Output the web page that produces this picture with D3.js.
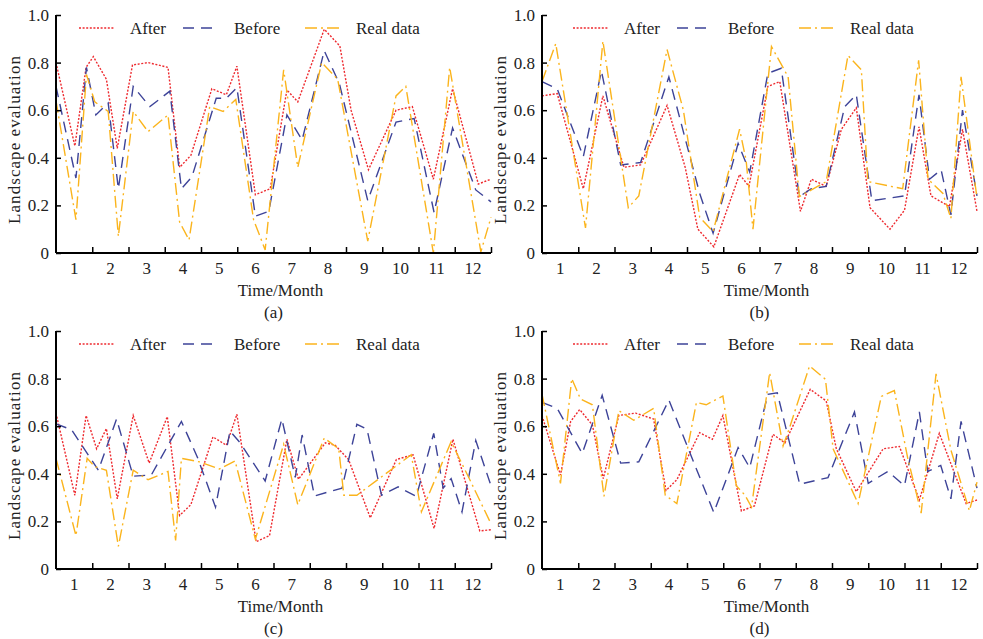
<!DOCTYPE html>
<html>
<head>
<meta charset="utf-8">
<script src="https://cdn.jsdelivr.net/npm/d3@7"></script>
<style>
body { margin: 0; background: #fff; }
svg { font-family: 'Liberation Serif', 'Times New Roman', serif; }
</style>
</head>
<body>
<svg width="983" height="639"></svg>
<script>
// [month position, value]
const aAfter = [[0,0.80],[0.52,0.45],[0.83,0.78],[1.03,0.825],[1.39,0.73],[1.69,0.44],[2.11,0.79],[2.54,0.80],[3.09,0.78],[3.41,0.36],[3.72,0.41],[4.30,0.69],[4.70,0.665],[4.99,0.785],[5.5,0.245],[5.91,0.27],[6.37,0.685],[6.67,0.635],[7.40,0.94],[7.83,0.87],[8.14,0.60],[8.62,0.35],[9.38,0.60],[9.83,0.615],[10.41,0.31],[10.94,0.69],[11.65,0.29],[12,0.31]]
const aBefore = [[0,0.70],[0.55,0.315],[0.84,0.78],[1.10,0.58],[1.44,0.63],[1.72,0.27],[2.13,0.70],[2.59,0.615],[3.14,0.68],[3.46,0.27],[3.75,0.32],[4.42,0.65],[4.70,0.65],[4.99,0.695],[5.5,0.155],[5.87,0.175],[6.37,0.58],[6.79,0.475],[7.40,0.85],[7.82,0.71],[8.60,0.22],[9.38,0.55],[9.88,0.565],[10.43,0.17],[10.94,0.525],[11.58,0.265],[12,0.215]]
const aReal = [[0,0.64],[0.55,0.14],[0.84,0.75],[1.07,0.635],[1.44,0.595],[1.72,0.07],[2.13,0.595],[2.54,0.51],[3.09,0.58],[3.41,0.13],[3.67,0.055],[4.24,0.615],[4.61,0.595],[4.96,0.645],[5.45,0.14],[5.77,0.013],[6.28,0.77],[6.67,0.36],[7.33,0.80],[7.77,0.73],[8.60,0.05],[9.38,0.66],[9.65,0.70],[10.41,0.0],[10.86,0.78],[11.72,0.005],[12,0.15]]

const bAfter = [[0,0.66],[0.42,0.67],[1.14,0.27],[1.68,0.66],[2.26,0.36],[2.72,0.37],[3.45,0.62],[3.95,0.36],[4.3,0.10],[4.74,0.026],[5.45,0.33],[5.71,0.28],[6.23,0.70],[6.56,0.72],[7.13,0.175],[7.43,0.31],[7.84,0.28],[8.26,0.52],[8.67,0.61],[9.05,0.19],[9.6,0.10],[10.0,0.18],[10.4,0.53],[10.73,0.24],[11.24,0.195],[11.6,0.52],[12,0.175]]
const bBefore = [[0,0.72],[0.42,0.69],[1.14,0.405],[1.64,0.765],[2.17,0.37],[2.72,0.38],[3.5,0.74],[4.35,0.25],[4.72,0.083],[5.41,0.46],[5.73,0.34],[6.23,0.755],[6.6,0.776],[7.1,0.237],[7.43,0.27],[7.84,0.28],[8.35,0.615],[8.67,0.665],[9.1,0.22],[10.0,0.24],[10.4,0.665],[10.69,0.31],[11.01,0.35],[11.28,0.16],[11.6,0.60],[12,0.24]]
const bReal = [[0,0.72],[0.38,0.88],[1.2,0.105],[1.68,0.89],[2.38,0.19],[2.67,0.24],[3.45,0.855],[3.9,0.6],[4.35,0.15],[4.72,0.09],[5.45,0.52],[5.63,0.39],[5.82,0.10],[6.33,0.867],[6.79,0.74],[7.1,0.237],[7.84,0.30],[8.44,0.83],[8.81,0.77],[8.99,0.30],[9.95,0.27],[10.39,0.81],[10.65,0.31],[11.06,0.25],[11.28,0.145],[11.56,0.74],[12,0.23]]

const cAfter = [[0,0.655],[0.52,0.31],[0.83,0.645],[1.12,0.505],[1.39,0.59],[1.69,0.295],[2.13,0.645],[2.57,0.445],[3.07,0.64],[3.41,0.225],[3.72,0.27],[4.33,0.555],[4.70,0.52],[4.99,0.65],[5.52,0.115],[5.89,0.14],[6.37,0.545],[6.69,0.377],[7.43,0.53],[7.7,0.52],[8.07,0.46],[8.67,0.215],[9.39,0.46],[9.85,0.48],[10.43,0.17],[10.95,0.545],[11.69,0.16],[12,0.165]]
const cBefore = [[0,0.61],[0.43,0.585],[1.17,0.415],[1.67,0.63],[2.13,0.39],[2.63,0.395],[3.46,0.62],[3.9,0.47],[4.4,0.26],[4.8,0.58],[5.08,0.53],[5.77,0.37],[6.23,0.63],[6.6,0.385],[6.79,0.563],[7.13,0.307],[7.89,0.34],[8.3,0.608],[8.58,0.587],[8.98,0.31],[9.44,0.345],[9.94,0.305],[10.42,0.57],[10.68,0.34],[10.9,0.38],[11.2,0.24],[11.58,0.54],[12,0.35]]
const cReal = [[0,0.465],[0.55,0.14],[0.86,0.465],[1.07,0.43],[1.39,0.415],[1.72,0.095],[2.13,0.415],[2.54,0.375],[3.09,0.41],[3.3,0.12],[3.46,0.465],[3.96,0.45],[4.51,0.42],[4.94,0.454],[5.5,0.125],[6.28,0.524],[6.67,0.27],[7.4,0.55],[7.8,0.505],[7.94,0.31],[8.3,0.31],[9.8,0.48],[10.08,0.24],[10.9,0.535],[11.4,0.38],[12,0.19]]

const dAfter = [[0,0.645],[0.51,0.395],[0.79,0.62],[1.04,0.67],[1.39,0.605],[1.69,0.38],[2.12,0.645],[2.58,0.655],[3.08,0.63],[3.42,0.33],[3.72,0.375],[4.35,0.573],[4.7,0.545],[4.99,0.645],[5.5,0.244],[5.86,0.265],[6.37,0.566],[6.7,0.53],[7.4,0.755],[7.84,0.706],[8.12,0.505],[8.67,0.325],[9.41,0.505],[9.86,0.515],[10.41,0.29],[10.96,0.57],[11.7,0.275],[12,0.29]]
const dBefore = [[0,0.70],[0.42,0.675],[1.11,0.485],[1.66,0.73],[2.17,0.445],[2.67,0.45],[3.5,0.71],[4.74,0.237],[5.41,0.51],[5.73,0.426],[6.23,0.734],[6.49,0.74],[7.11,0.356],[7.89,0.384],[8.62,0.66],[9.0,0.36],[9.54,0.41],[10.0,0.35],[10.41,0.66],[10.64,0.41],[11.0,0.435],[11.28,0.295],[11.56,0.62],[12,0.34]]
const dReal = [[0,0.735],[0.51,0.36],[0.82,0.80],[1.06,0.715],[1.39,0.69],[1.71,0.305],[2.12,0.665],[2.53,0.625],[3.08,0.675],[3.4,0.31],[3.72,0.275],[4.26,0.70],[4.53,0.69],[4.99,0.727],[5.36,0.35],[5.6,0.31],[5.78,0.26],[6.28,0.825],[6.65,0.517],[6.83,0.594],[7.38,0.853],[7.82,0.797],[8.03,0.505],[8.72,0.275],[9.36,0.725],[9.72,0.75],[10.09,0.465],[10.46,0.235],[10.87,0.82],[11.28,0.5],[11.79,0.245],[12,0.365]]

const months = d3.range(1, 13)
const yTicks = [0, 0.2, 0.4, 0.6, 0.8, 1.0]
const seriesNames = ['After', 'Before', 'Real data']
const panelLabels = ['(a)', '(b)', '(c)', '(d)']
const panelData = [[aAfter, aBefore, aReal], [bAfter, bBefore, bReal], [cAfter, cBefore, cReal], [dAfter, dBefore, dReal]]

const styles = [
	{ color: '#ee2a2f', dash: '2,1.6' },
	{ color: '#3d4398', dash: '11,7' },
	{ color: '#fbb41c', dash: '12,4,2,4' }
]

const svg = d3.select('svg')
const W = 435, H = 238
const origins = [[56, 15], [542, 15], [56, 331], [542, 331]]
const legendX = [23, 31, 23, 31]

panelData.forEach((series, p) => {
	const [ox, oy] = origins[p]
	const g = svg.append('g').attr('transform', `translate(${[ox, oy]})`)

	const x = d3.scaleLinear().domain([0, 12]).range([0, W])
	const y = d3.scaleLinear().domain([0, 1]).range([H, 0])
	const line = d3.line().x(d => x(d[0])).y(d => y(d[1]))

	series.forEach((s, i) => {
		g.append('path')
			.datum(s)
			.attr('d', line)
			.attr('fill', 'none')
			.attr('stroke', styles[i].color)
			.attr('stroke-width', 1.4)
			.attr('stroke-dasharray', styles[i].dash)
	})

	// axes with inward ticks
	const xAxis = g.append('g').attr('transform', `translate(0,${H})`)
		.call(d3.axisTop(x).tickValues(d3.range(1, 13)).tickSize(6).tickFormat(''))
	xAxis.select('.domain').remove()
	xAxis.selectAll('line').attr('stroke', '#000').attr('stroke-width', 1.5)
	xAxis.append('line').attr('x1', 0).attr('x2', W).attr('stroke', '#000').attr('stroke-width', 2)

	const yAxis = g.append('g')
		.call(d3.axisRight(y).tickValues(yTicks).tickSize(5).tickFormat(''))
	yAxis.select('.domain').remove()
	yAxis.selectAll('line').attr('stroke', '#000').attr('stroke-width', 1.5)
	yAxis.append('line').attr('y1', 0).attr('y2', H).attr('stroke', '#000').attr('stroke-width', 2)

	g.selectAll('text.ytick').data(yTicks).enter().append('text')
		.attr('class', 'ytick')
		.attr('x', -7).attr('y', d => y(d)).attr('dy', '0.35em')
		.attr('text-anchor', 'end').attr('font-size', 17).attr('fill', '#222')
		.text(d => d === 0 ? '0' : d.toFixed(1))

	g.selectAll('text.xtick').data(months).enter().append('text')
		.attr('class', 'xtick')
		.attr('x', d => x(d - 0.5)).attr('y', H + 21)
		.attr('text-anchor', 'middle').attr('font-size', 17).attr('fill', '#222')
		.text(d => d)

	g.append('text')
		.attr('x', W / 2 + 7).attr('y', H + 43)
		.attr('text-anchor', 'middle').attr('font-size', 17).attr('fill', '#222')
		.text('Time/Month')
	g.append('text')
		.attr('x', W / 2).attr('y', H + 65)
		.attr('text-anchor', 'middle').attr('font-size', 17).attr('fill', '#222')
		.text(panelLabels[p])

	g.append('text')
		.attr('transform', `translate(${-36},${H / 2 + 6}) rotate(-90)`)
		.attr('text-anchor', 'middle').attr('font-size', 17).attr('fill', '#222')
		.attr('textLength', 168).attr('lengthAdjust', 'spacing')
		.text('Landscape evaluation')

	// legend
	const lg = g.append('g').attr('transform', `translate(${legendX[p]},13)`)
	const legendOffsets = [0, 104, 226]
	seriesNames.forEach((name, i) => {
		const item = lg.append('g').attr('transform', `translate(${legendOffsets[i]},0)`)
		item.append('line')
			.attr('x1', 0).attr('x2', 36).attr('y1', 0).attr('y2', 0)
			.attr('stroke', styles[i].color).attr('stroke-width', 1.4)
			.attr('stroke-dasharray', styles[i].dash)
		item.append('text')
			.attr('x', 51).attr('dy', '0.35em')
			.attr('font-size', 17).attr('fill', '#222')
			.text(name)
	})
})
</script>
</body>
</html>
